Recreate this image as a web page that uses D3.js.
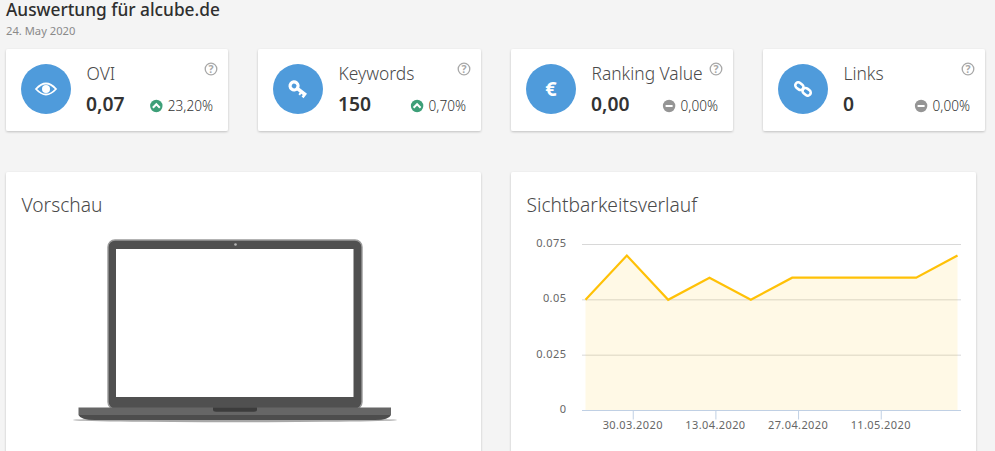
<!DOCTYPE html>
<html>
<head>
<meta charset="utf-8">
<script src="https://cdn.jsdelivr.net/npm/d3@7"></script>
<style>
  html, body { margin: 0; padding: 0; background: #f4f4f4; overflow: hidden; }
  text { font-family: "Noto Sans", sans-serif; }
</style>
</head>
<body>
<div id="page"></div>
<script>
// kpi cards
var cardNames = ["OVI", "Keywords", "Ranking Value", "Links"];
var cardValues = ["0,07", "150", "0,00", "0"];
var cardChanges = ["23,20%", "0,70%", "0,00%", "0,00%"];
var cardTrends = ["up", "up", "flat", "flat"];
var cardIcons = ["eye", "key", "euro", "link"];

// visibility history
var dates = ["2020-03-22", "2020-03-29", "2020-04-05", "2020-04-12", "2020-04-19",
             "2020-04-26", "2020-05-03", "2020-05-10", "2020-05-17", "2020-05-24"];
var ovi = [0.05, 0.07, 0.05, 0.06, 0.05, 0.06, 0.06, 0.06, 0.06, 0.07];
var yTicks = [0, 0.025, 0.05, 0.075];
var xTicks = ["2020-03-30", "2020-04-13", "2020-04-27", "2020-05-11"];

var svgWidth = 995;
var svgHeight = 451;

var parseDate = d3.utcParse("%Y-%m-%d");
var formatDate = d3.utcFormat("%d.%m.%Y");

var svg = d3.select("#page")
    .append("svg")
    .attr("width", svgWidth)
    .attr("height", svgHeight)
    .style("display", "block");

var defs = svg.append("defs");
var shadow = defs.append("filter").attr("id", "shadow")
    .attr("x", "-5%").attr("y", "-5%").attr("width", "110%").attr("height", "115%");
shadow.append("feDropShadow")
    .attr("dx", 0).attr("dy", 1).attr("stdDeviation", 1.2)
    .attr("flood-color", "#000").attr("flood-opacity", 0.22);

// heading
svg.append("text").attr("x", 6).attr("y", 16)
    .attr("font-size", 17.3).attr("font-weight", 500).attr("fill", "#2f2f2f")
    .text("Auswertung für alcube.de");
svg.append("text").attr("x", 6).attr("y", 35)
    .attr("font-size", 11.2).attr("fill", "#8a8a8a")
    .text("24. May 2020");

// small white glyphs inside the blue circles
function drawIcon(g, name) {
    if (name == "eye") {
        g.append("path")
            .attr("d", "M-10,0 Q0,-11 10,0 Q0,11 -10,0 Z")
            .attr("fill", "none").attr("stroke", "#fff").attr("stroke-width", 1.8);
        g.append("circle").attr("r", 4).attr("fill", "#fff");
    } else if (name == "key") {
        g.append("g").attr("transform", "rotate(38)").call(function(k) {
            k.append("circle").attr("cx", -5).attr("r", 4)
                .attr("fill", "none").attr("stroke", "#fff").attr("stroke-width", 3.2);
            k.append("path").attr("d", "M-1,-1.8 H10 V3.8 H7.5 V1.8 H5.5 V3.8 H3.5 V1.8 H-1 Z").attr("fill", "#fff");
        });
    } else if (name == "euro") {
        g.append("text").attr("text-anchor", "middle").attr("y", 7)
            .attr("font-size", 20).attr("font-weight", 700).attr("fill", "#fff")
            .text("€");
    } else if (name == "link") {
        g.append("g").attr("transform", "rotate(38)").call(function(k) {
            [-4.6, 4.6].forEach(function(cx) {
                k.append("rect").attr("x", cx - 4.4).attr("y", -3)
                    .attr("width", 8.8).attr("height", 6).attr("rx", 3)
                    .attr("fill", "none").attr("stroke", "#fff").attr("stroke-width", 2.6);
            });
        });
    }
}

// kpi cards
var cardX = d3.scaleOrdinal().domain(cardNames).range([6, 258, 511, 763]);
var cardW = [222, 223, 222, 222];

cardNames.forEach(function(name, i) {
    var g = svg.append("g").attr("transform", "translate(" + cardX(name) + ",49)");
    var w = cardW[i];
    g.append("rect").attr("width", w).attr("height", 82).attr("rx", 2)
        .attr("fill", "#fff").attr("filter", "url(#shadow)");
    g.append("circle").attr("cx", 40).attr("cy", 40).attr("r", 25).attr("fill", "#4f9bdb");
    drawIcon(g.append("g").attr("transform", "translate(40,40)"), cardIcons[i]);

    g.append("text").attr("x", 80.5).attr("y", 31)
        .attr("font-size", 17.4).attr("font-weight", 300).attr("fill", "#4a4a4a")
        .text(name);
    g.append("text").attr("x", 80).attr("y", 62)
        .attr("font-size", 19.3).attr("font-weight", 600).attr("fill", "#333")
        .text(cardValues[i]);

    // help icon
    g.append("circle").attr("cx", w - 17).attr("cy", 20).attr("r", 5.8)
        .attr("fill", "none").attr("stroke", "#a8a8a8").attr("stroke-width", 1.3);
    g.append("text").attr("x", w - 17).attr("y", 24).attr("text-anchor", "middle")
        .attr("font-size", 10.5).attr("font-weight", 700).attr("fill", "#a8a8a8").text("?");

    // change badge, right aligned
    var up = cardTrends[i] == "up";
    var changeText = g.append("text").attr("x", w - 15).attr("y", 62)
        .attr("text-anchor", "end").attr("font-size", 13.6).attr("font-weight", 300).attr("fill", "#333")
        .text(cardChanges[i]);
    var tw = changeText.node().getComputedTextLength();
    var bx = w - 15 - tw - 11.5;
    g.append("circle").attr("cx", bx).attr("cy", 57).attr("r", 6.2)
        .attr("fill", up ? "#3d9f78" : "#959595");
    if (up) {
        g.append("path").attr("d", "M" + (bx - 3.5) + ",58.8 L" + bx + ",55.2 L" + (bx + 3.5) + ",58.8")
            .attr("fill", "none").attr("stroke", "#fff").attr("stroke-width", 2);
    } else {
        g.append("rect").attr("x", bx - 3.5).attr("y", 56).attr("width", 7).attr("height", 2).attr("fill", "#fff");
    }
});

// lower panels
var panelX = [6, 511];
var panelW = [475, 465];
var panelTitles = ["Vorschau", "Sichtbarkeitsverlauf"];
panelX.forEach(function(x, i) {
    svg.append("rect").attr("x", x).attr("y", 172).attr("width", panelW[i]).attr("height", 300).attr("rx", 2)
        .attr("fill", "#fff").attr("filter", "url(#shadow)");
    svg.append("text").attr("x", x + 15.5).attr("y", 212)
        .attr("font-size", 19.2).attr("font-weight", 300).attr("fill", "#4a4a4a")
        .text(panelTitles[i]);
});

// laptop preview
var laptop = svg.append("g");
laptop.append("ellipse").attr("cx", 235).attr("cy", 420).attr("rx", 162).attr("ry", 2.2).attr("fill", "#a8a8a8");
laptop.append("rect").attr("x", 108).attr("y", 240).attr("width", 254).attr("height", 169).attr("rx", 7)
    .attr("fill", "#505050").attr("stroke", "#9a9a9a").attr("stroke-width", 1.4);
laptop.append("rect").attr("x", 116).attr("y", 249).attr("width", 237.5).attr("height", 148).attr("fill", "#fff");
laptop.append("circle").attr("cx", 235.5).attr("cy", 244.5).attr("r", 1.3).attr("fill", "#b5b5b5");
laptop.append("path").attr("d", "M78.5,407.5 H391 V415 H78.5 Z").attr("fill", "#666");
laptop.append("path").attr("d", "M78.5,415 H391 Q389,420 375,420 H95 Q80.5,420 78.5,415 Z").attr("fill", "#4d4d4d");
laptop.append("path").attr("d", "M213,407.5 H257 V409.5 Q257,411.7 254,411.7 H216 Q213,411.7 213,409.5 Z").attr("fill", "#3c3c3c");

// chart
var data = dates.map(function(d, i) { return {date: parseDate(d), value: ovi[i]}; });

var xScale = d3.scaleUtc()
    .domain(d3.extent(data, function(d) { return d.date; }))
    .range([585.5, 957.5]);
var yScale = d3.scaleLinear()
    .domain([0, 0.075])
    .range([410.5, 244.5]);

var chart = svg.append("g");

chart.selectAll(".grid")
    .data(yTicks.filter(function(t) { return t > 0; }))
    .enter()
    .append("line")
    .attr("class", "grid")
    .attr("x1", 582).attr("x2", 961)
    .attr("y1", function(d) { return yScale(d); })
    .attr("y2", function(d) { return yScale(d); })
    .attr("stroke", "#d8d8d8");

var area = d3.area()
    .x(function(d) { return xScale(d.date); })
    .y0(yScale(0))
    .y1(function(d) { return yScale(d.value); });
var line = d3.line()
    .x(function(d) { return xScale(d.date); })
    .y(function(d) { return yScale(d.value); });

chart.append("path").datum(data).attr("d", area)
    .attr("fill", "#ffc107").attr("fill-opacity", 0.1);
chart.append("path").datum(data).attr("d", line)
    .attr("fill", "none").attr("stroke", "#ffc107").attr("stroke-width", 2.2);

// y labels
chart.selectAll(".ylabel")
    .data(yTicks)
    .enter()
    .append("text")
    .attr("class", "ylabel")
    .attr("x", 566.5)
    .attr("y", function(d) { return yScale(d) + 2.5; })
    .attr("text-anchor", "end")
    .attr("font-size", 11)
    .attr("letter-spacing", 0.45)
    .attr("fill", "#666")
    .text(function(d) { return d; });

// x axis
var xAxis = d3.axisBottom(xScale)
    .tickValues(xTicks.map(parseDate))
    .tickFormat(formatDate)
    .tickSize(9)
    .tickSizeOuter(0);
var xAxisG = chart.append("g")
    .attr("transform", "translate(0,410.5)")
    .call(xAxis);
xAxisG.select(".domain").remove();
xAxisG.append("line").attr("x1", 582).attr("x2", 961).attr("stroke", "#c0d0e4");
xAxisG.selectAll(".tick line").attr("stroke", "#c0d0e4");
xAxisG.selectAll(".tick text")
    .attr("y", 11)
    .attr("dx", -0.5)
    .attr("font-family", "Noto Sans, sans-serif")
    .attr("font-size", 11)
    .attr("letter-spacing", 0.4)
    .attr("fill", "#666");
</script>
</body>
</html>
